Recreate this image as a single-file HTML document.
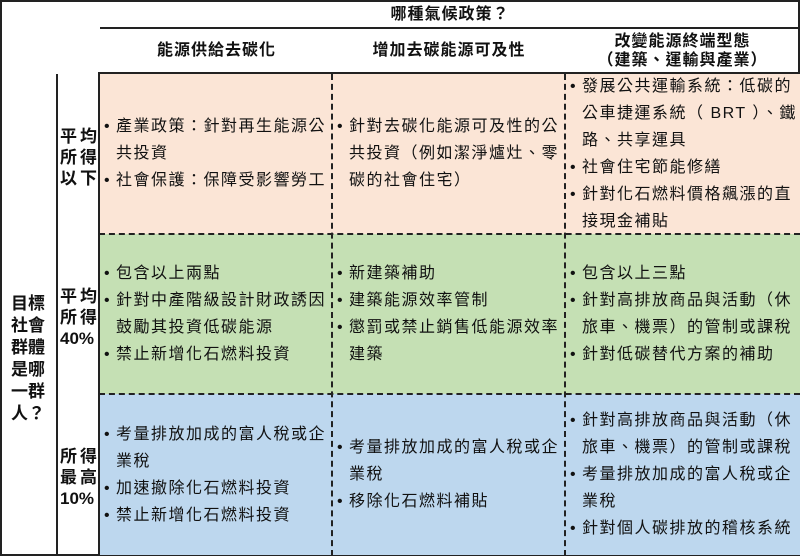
<!DOCTYPE html>
<html><head><meta charset="utf-8"><style>
*{margin:0;padding:0;box-sizing:border-box}
body{width:800px;height:556px;background:#fff;position:relative;overflow:hidden;font-family:"Liberation Sans","Noto Sans CJK TC",sans-serif;color:#111}
.a{position:absolute}
.cell{position:absolute;display:flex;flex-direction:column;justify-content:center;font-size:16px;line-height:27px;letter-spacing:1.5px;white-space:nowrap}
.li{position:relative;padding-left:16px}
.li:before{content:"•";position:absolute;left:4px;top:0;letter-spacing:0}
.h{position:absolute;font-size:16px;font-weight:bold;text-align:center;letter-spacing:1px;line-height:19px}
.lab{position:absolute;font-size:17px;font-weight:bold;line-height:21px;letter-spacing:3px;white-space:nowrap}
</style></head><body>
<div class="a" style="left:0;top:0;width:800px;height:556px;border:2px solid #222"></div>
<div class="a" style="left:100px;top:27px;width:700px;height:1.5px;background:#222"></div>
<div class="h" style="left:100px;top:5px;width:700px">哪種氣候政策？</div>
<div class="h" style="left:100px;top:41px;width:233px">能源供給去碳化</div>
<div class="h" style="left:333px;top:41px;width:232px">增加去碳能源可及性</div>
<div class="h" style="left:565px;top:32px;width:235px">改變能源終端型態<br>（建築、運輸與產業）</div>

<div class="a" style="left:99px;top:73px;width:234px;height:161px;background:#fbe5d6"></div>
<div class="a" style="left:333px;top:73px;width:232px;height:161px;background:#fbe5d6"></div>
<div class="a" style="left:565px;top:73px;width:235px;height:161px;background:#fbe5d6"></div>
<div class="a" style="left:99px;top:234px;width:701px;height:160px;background:#c5e0b4"></div>
<div class="a" style="left:99px;top:394px;width:701px;height:161px;background:#bdd7ee"></div>

<div class="a" style="left:99px;top:72px;width:701px;height:2px;background:#222"></div>
<div class="a" style="left:98px;top:72px;width:2px;height:484px;background:#222"></div>
<div class="a" style="left:56px;top:74px;width:1.5px;height:482px;background:#222"></div>
<div class="a" style="left:99px;top:233px;width:701px;border-top:2px dashed #222"></div>
<div class="a" style="left:99px;top:393px;width:701px;border-top:2px dashed #222"></div>
<div class="a" style="left:331px;top:74px;height:482px;border-left:2px dashed #222"></div>
<div class="a" style="left:564px;top:74px;height:482px;border-left:2px dashed #222"></div>

<div class="lab" style="left:11px;top:293px;line-height:22px;letter-spacing:0">目標<br>社會<br>群體<br>是哪<br>一群<br>人？</div>
<div class="lab" style="left:60px;top:126px">平均<br>所得<br>以下</div>
<div class="lab" style="left:60px;top:286px">平均<br>所得<br><span style="letter-spacing:0">40%</span></div>
<div class="lab" style="left:60px;top:446px">所得<br>最高<br><span style="letter-spacing:0">10%</span></div>

<div class="cell" style="left:100px;top:74px;width:232px;height:159px">
<div class="li">產業政策：針對再生能源公<br>共投資</div>
<div class="li">社會保護：保障受影響勞工</div></div>
<div class="cell" style="left:333px;top:74px;width:232px;height:159px">
<div class="li">針對去碳化能源可及性的公<br>共投資（例如潔淨爐灶、零<br>碳的社會住宅）</div></div>
<div class="cell" style="left:566px;top:74px;width:234px;height:159px">
<div class="li">發展公共運輸系統：低碳的<br>公車捷運系統（ BRT ）、鐵<br>路、共享運具</div>
<div class="li">社會住宅節能修繕</div>
<div class="li">針對化石燃料價格飆漲的直<br>接現金補貼</div></div>

<div class="cell" style="left:100px;top:235px;width:232px;height:158px">
<div class="li">包含以上兩點</div>
<div class="li">針對中產階級設計財政誘因<br>鼓勵其投資低碳能源</div>
<div class="li">禁止新增化石燃料投資</div></div>
<div class="cell" style="left:333px;top:235px;width:232px;height:158px">
<div class="li">新建築補助</div>
<div class="li">建築能源效率管制</div>
<div class="li">懲罰或禁止銷售低能源效率<br>建築</div></div>
<div class="cell" style="left:566px;top:235px;width:234px;height:158px">
<div class="li">包含以上三點</div>
<div class="li">針對高排放商品與活動（休<br>旅車、機票）的管制或課稅</div>
<div class="li">針對低碳替代方案的補助</div></div>

<div class="cell" style="left:100px;top:395px;width:232px;height:159px">
<div class="li">考量排放加成的富人稅或企<br>業稅</div>
<div class="li">加速撤除化石燃料投資</div>
<div class="li">禁止新增化石燃料投資</div></div>
<div class="cell" style="left:333px;top:395px;width:232px;height:159px">
<div class="li">考量排放加成的富人稅或企<br>業稅</div>
<div class="li">移除化石燃料補貼</div></div>
<div class="cell" style="left:566px;top:395px;width:234px;height:159px">
<div class="li">針對高排放商品與活動（休<br>旅車、機票）的管制或課稅</div>
<div class="li">考量排放加成的富人稅或企<br>業稅</div>
<div class="li">針對個人碳排放的稽核系統</div></div>
</body></html>
